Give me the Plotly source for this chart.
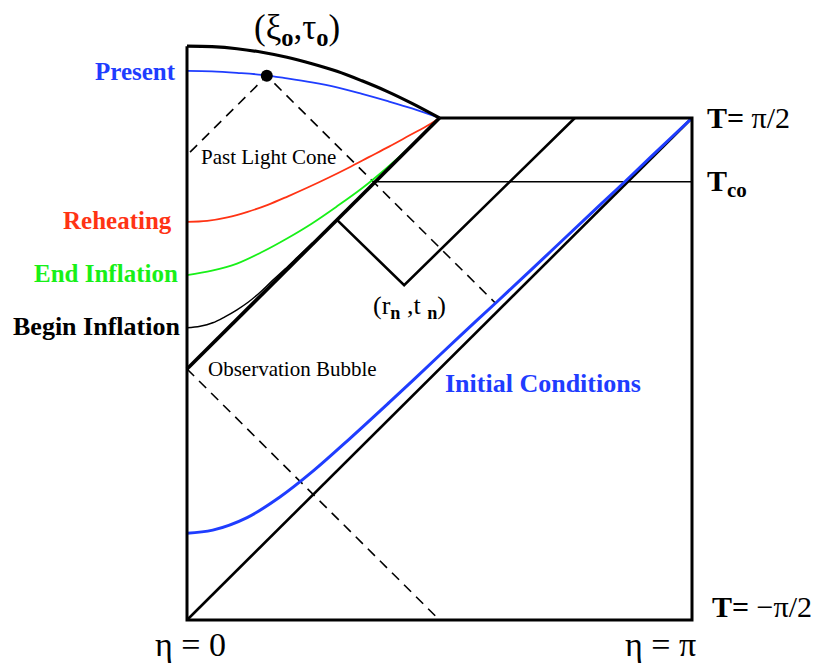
import plotly.graph_objects as go

# ---- data (eta/pi, T/pi) ----
grid_eta = [0, 0.0495, 0.099, 0.1485, 0.198, 0.2475, 0.297, 0.3465, 0.396, 0.4455, 0.5]

top_eta = grid_eta
top_T = [0.643, 0.642, 0.638, 0.631, 0.621, 0.608, 0.593, 0.574, 0.553, 0.529, 0.5]

present_eta = grid_eta
present_T = [0.594, 0.593, 0.590, 0.586, 0.579, 0.571, 0.561, 0.548, 0.534, 0.519, 0.5]

reheat_eta = [0, 0.04, 0.08, 0.12, 0.16, 0.20, 0.24, 0.28, 0.32, 0.36, 0.40, 0.44, 0.48, 0.5]
reheat_T = [0.293, 0.295, 0.302, 0.313, 0.327, 0.344, 0.362, 0.381, 0.401, 0.422, 0.443, 0.465, 0.487, 0.5]

endinf_eta = grid_eta
endinf_T = [0.187, 0.196, 0.210, 0.233, 0.260, 0.290, 0.324, 0.360, 0.401, 0.446, 0.5]

begin_eta = [0, 0.026, 0.051, 0.075, 0.099, 0.121, 0.145, 0.168, 0.194, 0.220, 0.248]
begin_T = [0.082, 0.085, 0.092, 0.104, 0.118, 0.133, 0.153, 0.175, 0.199, 0.224, 0.251]

init_eta = [0, 0.051, 0.119, 0.184, 0.250, 0.323, 0.400, 0.448, 0.541, 0.614, 0.719, 0.818, 0.867, 0.917, 1.0]
init_T = [-0.327, -0.321, -0.296, -0.255, -0.203, -0.138, -0.067, -0.022, 0.066, 0.134, 0.233, 0.327, 0.373, 0.421, 0.5]

frame_eta = [0.5, 1.0, 1.0, 0.0, 0.0]
frame_T = [0.5, 0.5, -0.5, -0.5, 0.643]

diag_eta = [0.0, 1.0]
diag_T = [-0.5, 0.5]

bubble_eta = [0.0, 0.5]
bubble_T = [0.0, 0.5]

bubble_past_eta = [0.0, 0.5]
bubble_past_T = [0.0, -0.5]

nucl_eta = [0.297, 0.430, 0.768]
nucl_T = [0.297, 0.167, 0.5]

cone_eta = [0.006, 0.158, 0.612]
cone_T = [0.432, 0.584, 0.130]

tco_eta = [0.373, 1.0]
tco_T = [0.373, 0.373]

obs_eta = [0.158]
obs_T = [0.584]

# ---- pixel helpers for text placement ----
def X(px):
    return (px - 187) / 505.0

def Y(py):
    return (369 - py) / 502.0

BLUE = "#1f3dff"
RED = "#ff3314"
GREEN = "#18f018"
SERIF = "Liberation Serif, Times New Roman, serif"

fig = go.Figure()

def line(x, y, color="black", width=2, dash=None, shape="linear"):
    fig.add_trace(go.Scatter(x=x, y=y, mode="lines",
                             line=dict(color=color, width=width, dash=dash, shape=shape),
                             hoverinfo="skip", showlegend=False))

line(bubble_past_eta, bubble_past_T, width=1.6, dash="10px,7px")
line(cone_eta, cone_T, width=1.6, dash="10px,7px")
line(tco_eta, tco_T, width=1.6)
line(diag_eta, diag_T, width=2.6)
line(init_eta, init_T, color=BLUE, width=3, shape="spline")
line(nucl_eta, nucl_T, width=2.6)
line(begin_eta, begin_T, width=1.5, shape="spline")
line(endinf_eta, endinf_T, color=GREEN, width=1.8, shape="spline")
line(reheat_eta, reheat_T, color=RED, width=1.8, shape="spline")
line(present_eta, present_T, color=BLUE, width=1.8, shape="spline")
line(top_eta, top_T, width=3.2, shape="spline")
line(bubble_eta, bubble_T, width=3.6)
line(frame_eta, frame_T, width=3)

fig.add_trace(go.Scatter(x=obs_eta, y=obs_T, mode="markers",
                         marker=dict(color="black", size=12),
                         hoverinfo="skip", showlegend=False))

anns = [
    dict(x=X(297), y=Y(29), text="(ξ<sub><b>o</b></sub>,τ<sub><b>o</b></sub>)", size=35, color="black", xa="center"),
    dict(x=X(178), y=Y(71), text="<b>Present</b>", size=25, color=BLUE, xa="right"),
    dict(x=X(174), y=Y(220), text="<b>Reheating</b>", size=25, color=RED, xa="right"),
    dict(x=X(180), y=Y(273), text="<b>End Inflation</b>", size=25, color=GREEN, xa="right"),
    dict(x=X(182), y=Y(326), text="<b>Begin Inflation</b>", size=26, color="black", xa="right"),
    dict(x=X(268), y=Y(157), text="Past Light Cone", size=21, color="black", xa="center"),
    dict(x=X(292), y=Y(369), text="Observation Bubble", size=21, color="black", xa="center"),
    dict(x=X(409), y=Y(307), text="(r<sub><b>n</b></sub> ,t <sub><b>n</b></sub>)", size=26, color="black", xa="center"),
    dict(x=X(543), y=Y(383), text="<b>Initial Conditions</b>", size=26, color=BLUE, xa="center"),
    dict(x=X(705), y=Y(117), text="<b>T=</b> π/2", size=30, color="black", xa="left"),
    dict(x=X(705), y=Y(183), text="<b>T<sub>co</sub></b>", size=30, color="black", xa="left"),
    dict(x=X(710), y=Y(606), text="<b>T=</b> −π/2", size=30, color="black", xa="left"),
    dict(x=X(190), y=Y(644), text="η = 0", size=34, color="black", xa="center"),
    dict(x=X(660), y=Y(644), text="η = π", size=34, color="black", xa="center"),
]
for a in anns:
    fig.add_annotation(x=a["x"], y=a["y"], xref="x", yref="y", text=a["text"],
                       showarrow=False, xanchor=a["xa"], yanchor="middle",
                       font=dict(family=SERIF, size=a["size"], color=a["color"]))

fig.update_layout(
    width=818, height=667,
    margin=dict(l=0, r=0, t=0, b=0),
    paper_bgcolor="white", plot_bgcolor="white",
    xaxis=dict(range=[X(0), X(818)], visible=False, fixedrange=True),
    yaxis=dict(range=[Y(667), Y(0)], visible=False, fixedrange=True),
    showlegend=False,
)

fig.write_html("out.html")
